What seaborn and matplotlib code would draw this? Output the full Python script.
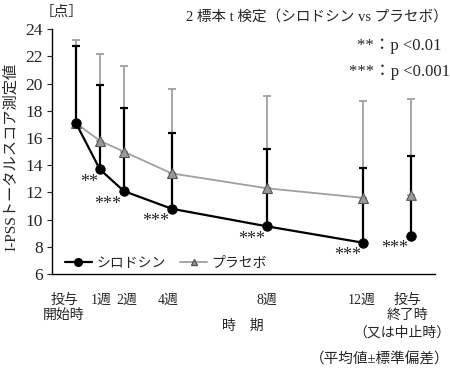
import matplotlib
matplotlib.use("Agg")
import matplotlib.pyplot as plt
import matplotlib.transforms as mtransforms
from matplotlib.lines import Line2D
import seaborn as sns
import pandas as pd

# ---- data ----
weeks = [0, 1, 2, 4, 8, 12, 14]
tick_labels = ["投与\n開始時", "1週", "2週", "4週", "8週", "12週", "投与\n終了時"]
end_note = "（又は中止時）"
silodosin_mean = [17.1, 13.7, 12.1, 10.8, 9.5, 8.3, 8.8]
silodosin_sd = [5.7, 6.2, 6.1, 5.6, 5.7, 5.5, 5.9]
placebo_mean = [17.1, 15.8, 15.0, 13.4, 12.3, 11.6, 11.8]
placebo_sd = [6.1, 6.4, 6.3, 6.2, 6.8, 7.1, 7.1]
stars = ["", "**", "***", "***", "***", "***", "***"]

sns.set_style("ticks")
FAM = ["Liberation Serif", "Noto Sans CJK JP", "DejaVu Sans"]
plt.rcParams["font.family"] = FAM

fig = plt.figure(figsize=(4.5, 3.69), dpi=100)
ax = fig.add_axes([52/450, 1-274/369, (435-52)/450, (274-29.3)/369])

n_line = 6  # points connected by line (through 12 weeks)
df_s = pd.DataFrame({"week": weeks[:n_line], "score": silodosin_mean[:n_line]})
df_p = pd.DataFrame({"week": weeks[:n_line], "score": placebo_mean[:n_line]})

grey = "#a0a0a0"
# error bars (upper only)
ax.errorbar(weeks, placebo_mean, yerr=[[0]*len(weeks), placebo_sd], fmt="none",
            ecolor=grey, elinewidth=1.3, capsize=2.7, capthick=1.3, zorder=1)
ax.errorbar(weeks, silodosin_mean, yerr=[[0]*len(weeks), silodosin_sd], fmt="none",
            ecolor="black", elinewidth=1.6, capsize=2.7, capthick=1.6, zorder=2)

sns.lineplot(data=df_p, x="week", y="score", ax=ax, color=grey, lw=1.3,
             marker="^", markersize=6.5, markerfacecolor="#999999",
             markeredgecolor="#555555", markeredgewidth=0.8, zorder=3)
sns.lineplot(data=df_s, x="week", y="score", ax=ax, color="black", lw=1.6,
             marker="o", markersize=6.7, markerfacecolor="black",
             markeredgecolor="black", zorder=4)
# end point (not connected)
sns.scatterplot(x=[weeks[-1]], y=[placebo_mean[-1]], ax=ax, marker="^", s=48,
                color="#999999", edgecolor="#555555", linewidth=0.8, zorder=3)
sns.scatterplot(x=[weeks[-1]], y=[silodosin_mean[-1]], ax=ax, marker="o", s=48,
                color="black", edgecolor="black", zorder=4)

# stars
for w, m, s in zip(weeks, silodosin_mean, stars):
    if s:
        dx = -11 if len(s) == 2 else -16
        ax.annotate(s, xy=(w, m), xytext=(dx, -13), textcoords="offset pixels",
                    ha="center", va="center", fontsize=13, family=FAM)

ax.set_xlim(-1, 15)
ax.set_ylim(6, 24)
ax.set_yticks(range(6, 25, 2))
ax.set_xticks(weeks)
ax.set_xticklabels(tick_labels, fontsize=10, linespacing=1.2, va="top")
ax.tick_params(axis="x", length=0, pad=14)
ax.tick_params(axis="y", labelsize=12.5, length=3.5, width=0.8, direction="out", pad=3)
for sp in ["top", "right"]:
    ax.spines[sp].set_visible(False)
for sp in ["left", "bottom"]:
    ax.spines[sp].set_linewidth(1.0)
    ax.spines[sp].set_color("black")
ax.set_xlabel("")
ax.set_ylabel("")

# shift x tick labels to match layout
x_off = [-12, 1, 3, -3, -1, -2, -4]
for lab, dx in zip(ax.get_xticklabels(), x_off):
    lab.set_transform(lab.get_transform() +
                      mtransforms.ScaledTranslation(dx/100, 0, fig.dpi_scale_trans))

# third line of the end label
ax.annotate(end_note, xy=(weeks[-1], 0), xycoords=("data", "axes fraction"),
            xytext=(-9, -59), textcoords="offset pixels", ha="center", va="center",
            fontsize=10)

# legend
handles = [Line2D([], [], color="black", lw=1.6, marker="o", markersize=5.5),
           Line2D([], [], color=grey, lw=1.3, marker="^", markersize=5,
                  markerfacecolor="#999999", markeredgecolor="#555555")]
ax.legend(handles, ["シロドシン", "プラセボ"], ncol=2, frameon=False,
          loc="lower left", bbox_to_anchor=(0.0, -0.035),
          handlelength=2.0, handletextpad=0.3, columnspacing=1.0,
          prop={"family": FAM, "size": 10})

# texts
fig.text(11/450, 1-157/369, "I-PSSトータルスコア測定値", rotation=90,
         ha="center", va="center", fontsize=11)
fig.text(62/450, 1-12/369, "［点］", ha="center", va="center", fontsize=10.5)
fig.text(448/450, 1-17/369, "2 標本 t 検定（シロドシン vs プラセボ）",
         ha="right", va="center", fontsize=10.5)
fig.text(441/450, 1-46/369, "**：p <0.01", ha="right", va="center", fontsize=12)
fig.text(450/450, 1-72/369, "***：p <0.001", ha="right", va="center", fontsize=12)
fig.text(243/450, 1-326/369, "時　期", ha="center", va="center", fontsize=10)
fig.text(449/450, 1-360/369, "（平均値±標準偏差）", ha="right", va="center", fontsize=10.5)

fig.savefig("out.png", dpi=100)
